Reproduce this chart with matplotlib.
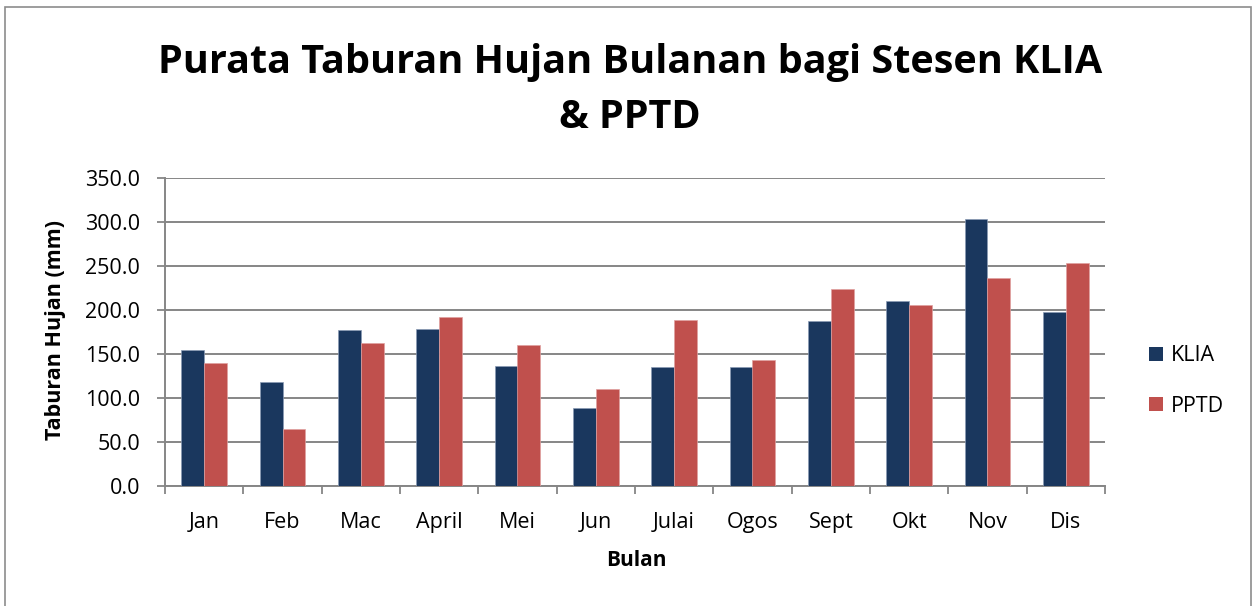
import matplotlib
matplotlib.use("Agg")
import matplotlib.pyplot as plt
from matplotlib.patches import Rectangle, Patch
import numpy as np

months = ["Jan", "Feb", "Mac", "April", "Mei", "Jun", "Julai", "Ogos", "Sept", "Okt", "Nov", "Dis"]
klia = [154.0, 118.3, 177.3, 178.8, 136.7, 88.6, 135.6, 135.2, 187.5, 210.6, 303.0, 198.1]
pptd = [139.8, 65.2, 162.1, 192.4, 160.6, 110.2, 189.0, 143.6, 224.2, 205.3, 236.4, 253.0]
series_names = ["KLIA", "PPTD"]
yticks = [0, 50, 100, 150, 200, 250, 300, 350]

FONT = "Open Sans"
plt.rcParams["font.family"] = [FONT, "DejaVu Sans"]

W, H = 1253, 606
fig = plt.figure(figsize=(W / 100, H / 100), dpi=100)

# outer border (bottom edge falls outside the image)
fig.patches.append(Rectangle((5 / W, -5 / H), 1246 / W, (H - 2) / H, transform=fig.transFigure,
                             fill=False, edgecolor="#8c8c8c", linewidth=1.2))

ax = fig.add_axes([165 / W, 1 - 486 / H, 940 / W, 308 / H])
x = np.arange(len(months))
bw = 0.29
c1, c2 = "#1a375e", "#c0504d"
ax.bar(x - bw / 2, klia, bw, color=c1, edgecolor="#8a9bb5", linewidth=0.5, zorder=3)
ax.bar(x + bw / 2, pptd, bw, color=c2, edgecolor="#e0a0a0", linewidth=0.5, zorder=3)

ax.set_xlim(-0.5, len(months) - 0.5)
ax.set_ylim(0, 350)
ax.set_yticks(yticks)
ax.set_yticklabels([f"{v:.1f}" for v in yticks], fontsize=15.5)
ax.set_xticks(x)
ax.set_xticklabels(months, fontsize=15.5)
ax.tick_params(axis="x", length=0, pad=19)
ax.set_xticks(np.arange(len(months) + 1) - 0.5, minor=True)
ax.tick_params(axis="x", which="minor", length=6, color="#868686", width=1.3)
ax.tick_params(axis="y", length=6, color="#868686", width=1.3, pad=12)
ax.grid(axis="y", color="#868686", linewidth=1.4, zorder=0)
for s in ["top", "right"]:
    ax.spines[s].set_visible(False)
for s in ["left", "bottom"]:
    ax.spines[s].set_color("#868686")
    ax.spines[s].set_linewidth(1.4)

fig.text(630 / W, 1 - 62 / H, "Purata Taburan Hujan Bulanan bagi Stesen KLIA",
         ha="center", va="center", fontsize=28.5, fontweight="bold")
fig.text(630 / W, 1 - 118 / H, "& PPTD", ha="center", va="center", fontsize=28.5, fontweight="bold")
fig.text(56 / W, 1 - 330 / H, "Taburan Hujan (mm)", rotation=90, ha="center", va="center",
         fontsize=15.5, fontweight="bold")
fig.text(636 / W, 1 - 561 / H, "Bulan", ha="center", va="center", fontsize=15, fontweight="bold")

handles = [Patch(facecolor=c1), Patch(facecolor=c2)]
fig.legend(handles, series_names, loc="center left", bbox_to_anchor=(1130 / W, 1 - 381 / H),
           frameon=False, fontsize=15.5, handlelength=0.65, handleheight=0.65, handletextpad=0.35,
           labelspacing=1.35)

fig.savefig("out.png", dpi=100)
